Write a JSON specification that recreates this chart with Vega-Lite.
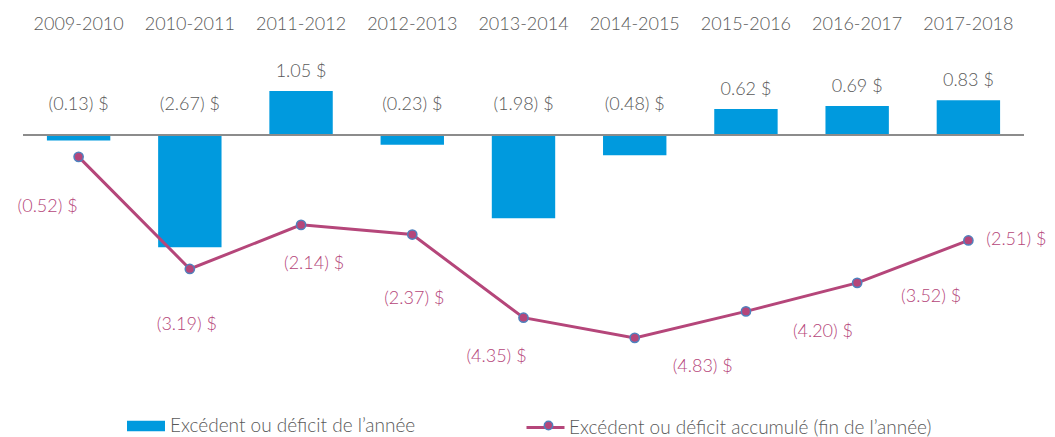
{
  "$schema": "https://vega.github.io/schema/vega-lite/v6.json",
  "width": 1001,
  "height": 336,
  "autosize": {"type": "none"},
  "padding": {"left": 23, "top": 51, "right": 31, "bottom": 50},
  "background": "white",
  "config": {"view": {"stroke": null}, "font": "Lato", "text": {"font": "Lato"}},
  "data": {"values": [
    {"year": "2009-2010", "annual": -0.13, "annualLabel": "(0.13) $", "cumulative": -0.52, "cumLabel": "(0.52) $"},
    {"year": "2010-2011", "annual": -2.67, "annualLabel": "(2.67) $", "cumulative": -3.19, "cumLabel": "(3.19) $"},
    {"year": "2011-2012", "annual": 1.05, "annualLabel": "1.05 $", "cumulative": -2.14, "cumLabel": "(2.14) $"},
    {"year": "2012-2013", "annual": -0.23, "annualLabel": "(0.23) $", "cumulative": -2.37, "cumLabel": "(2.37) $"},
    {"year": "2013-2014", "annual": -1.98, "annualLabel": "(1.98) $", "cumulative": -4.35, "cumLabel": "(4.35) $"},
    {"year": "2014-2015", "annual": -0.48, "annualLabel": "(0.48) $", "cumulative": -4.83, "cumLabel": "(4.83) $"},
    {"year": "2015-2016", "annual": 0.62, "annualLabel": "0.62 $", "cumulative": -4.20, "cumLabel": "(4.20) $"},
    {"year": "2016-2017", "annual": 0.69, "annualLabel": "0.69 $", "cumulative": -3.52, "cumLabel": "(3.52) $"},
    {"year": "2017-2018", "annual": 0.83, "annualLabel": "0.83 $", "cumulative": -2.51, "cumLabel": "(2.51) $"}
  ]},
  "layer": [
    {
      "mark": {"type": "bar"},
      "encoding": {
        "x": {"field": "year", "type": "nominal", "sort": null,
              "scale": {"paddingInner": 0.43, "paddingOuter": 0.215},
              "axis": {"orient": "top", "title": null, "ticks": false, "domain": false, "labelAngle": 0,
                       "labelPadding": 18, "labelFontSize": 18, "labelColor": "#595959", "labelFont": "Lato", "labelFontWeight": 300}},
        "y": {"field": "annual", "type": "quantitative", "scale": {"domain": [-6, 2], "nice": false}, "axis": null},
        "color": {"datum": "Excédent ou déficit de l’année", "type": "nominal",
                  "scale": {"range": ["#009ADE"]},
                  "legend": {"orient": "none", "legendX": 104, "legendY": 356, "title": null, "padding": 0,
                             "symbolType": "M-1,-0.27H1V0.27H-1Z", "symbolSize": 1444, "symbolStrokeWidth": 0,
                             "labelFontSize": 19, "labelLimit": 500, "labelColor": "#595959", "labelFont": "Lato", "labelFontWeight": 300, "labelOffset": 5}}
      }
    },
    {
      "mark": {"type": "rule", "color": "#8c8c8c", "strokeWidth": 1.2},
      "encoding": {"y": {"datum": 0, "type": "quantitative", "scale": {"domain": [-6, 2], "nice": false}}}
    },
    {
      "mark": {"type": "line", "strokeWidth": 3},
      "encoding": {
        "x": {"field": "year", "type": "nominal", "sort": null},
        "y": {"field": "cumulative", "type": "quantitative"},
        "stroke": {"datum": "Excédent ou déficit accumulé (fin de l’année)", "type": "nominal",
                   "scale": {"range": ["#B5467A"]},
                   "legend": {"orient": "none", "legendX": 502, "legendY": 356, "title": null, "padding": 0,
                              "symbolType": "M-1,0H1", "symbolSize": 1444, "symbolStrokeWidth": 3,
                              "labelFontSize": 19, "labelLimit": 500, "labelColor": "#595959", "labelFont": "Lato", "labelFontWeight": 300, "labelOffset": 3}}
      }
    },
    {
      "mark": {"type": "circle", "size": 85, "stroke": "#4F81BD", "strokeWidth": 1.5, "opacity": 1},
      "encoding": {
        "x": {"field": "year", "type": "nominal", "sort": null},
        "y": {"field": "cumulative", "type": "quantitative"},
        "fill": {"datum": "marqueur", "type": "nominal",
                 "scale": {"range": ["#B5467A"]},
                 "legend": {"orient": "none", "legendX": 517, "legendY": 366, "title": null, "padding": 0,
                            "symbolType": "circle", "symbolSize": 70, "symbolStrokeColor": "#4F81BD", "symbolStrokeWidth": 1.5,
                            "labelFontSize": 17, "labelExpr": "''", "labelOffset": 0}}
      }
    },
    {
      "transform": [{"filter": "datum.annual > 0"}],
      "mark": {"type": "text", "dy": -19, "baseline": "middle", "align": "center", "fontSize": 18, "fontWeight": 300, "color": "#595959"},
      "encoding": {
        "x": {"field": "year", "type": "nominal", "sort": null},
        "y": {"field": "annual", "type": "quantitative"},
        "text": {"field": "annualLabel"}
      }
    },
    {
      "transform": [{"filter": "datum.annual < 0"}],
      "mark": {"type": "text", "dy": -30, "baseline": "middle", "align": "center", "fontSize": 18, "fontWeight": 300, "color": "#595959"},
      "encoding": {
        "x": {"field": "year", "type": "nominal", "sort": null},
        "y": {"datum": 0, "type": "quantitative"},
        "text": {"field": "annualLabel"}
      }
    },
    {"transform": [{"filter": "datum.year == '2009-2010'"}],
     "mark": {"type": "text", "dx": -31, "dy": 50, "baseline": "middle", "align": "center", "fontSize": 18, "fontWeight": 300, "color": "#B5467A"},
     "encoding": {"x": {"field": "year", "type": "nominal", "sort": null}, "y": {"field": "cumulative", "type": "quantitative"}, "text": {"field": "cumLabel"}}},
    {"transform": [{"filter": "datum.year == '2010-2011'"}],
     "mark": {"type": "text", "dx": -3, "dy": 56, "baseline": "middle", "align": "center", "fontSize": 18, "fontWeight": 300, "color": "#B5467A"},
     "encoding": {"x": {"field": "year", "type": "nominal", "sort": null}, "y": {"field": "cumulative", "type": "quantitative"}, "text": {"field": "cumLabel"}}},
    {"transform": [{"filter": "datum.year == '2011-2012'"}],
     "mark": {"type": "text", "dx": 13, "dy": 39, "baseline": "middle", "align": "center", "fontSize": 18, "fontWeight": 300, "color": "#B5467A"},
     "encoding": {"x": {"field": "year", "type": "nominal", "sort": null}, "y": {"field": "cumulative", "type": "quantitative"}, "text": {"field": "cumLabel"}}},
    {"transform": [{"filter": "datum.year == '2012-2013'"}],
     "mark": {"type": "text", "dx": 2, "dy": 64, "baseline": "middle", "align": "center", "fontSize": 18, "fontWeight": 300, "color": "#B5467A"},
     "encoding": {"x": {"field": "year", "type": "nominal", "sort": null}, "y": {"field": "cumulative", "type": "quantitative"}, "text": {"field": "cumLabel"}}},
    {"transform": [{"filter": "datum.year == '2013-2014'"}],
     "mark": {"type": "text", "dx": -27, "dy": 39, "baseline": "middle", "align": "center", "fontSize": 18, "fontWeight": 300, "color": "#B5467A"},
     "encoding": {"x": {"field": "year", "type": "nominal", "sort": null}, "y": {"field": "cumulative", "type": "quantitative"}, "text": {"field": "cumLabel"}}},
    {"transform": [{"filter": "datum.year == '2014-2015'"}],
     "mark": {"type": "text", "dx": 68, "dy": 29, "baseline": "middle", "align": "center", "fontSize": 18, "fontWeight": 300, "color": "#B5467A"},
     "encoding": {"x": {"field": "year", "type": "nominal", "sort": null}, "y": {"field": "cumulative", "type": "quantitative"}, "text": {"field": "cumLabel"}}},
    {"transform": [{"filter": "datum.year == '2015-2016'"}],
     "mark": {"type": "text", "dx": 77, "dy": 21, "baseline": "middle", "align": "center", "fontSize": 18, "fontWeight": 300, "color": "#B5467A"},
     "encoding": {"x": {"field": "year", "type": "nominal", "sort": null}, "y": {"field": "cumulative", "type": "quantitative"}, "text": {"field": "cumLabel"}}},
    {"transform": [{"filter": "datum.year == '2016-2017'"}],
     "mark": {"type": "text", "dx": 74, "dy": 14, "baseline": "middle", "align": "center", "fontSize": 18, "fontWeight": 300, "color": "#B5467A"},
     "encoding": {"x": {"field": "year", "type": "nominal", "sort": null}, "y": {"field": "cumulative", "type": "quantitative"}, "text": {"field": "cumLabel"}}},
    {"transform": [{"filter": "datum.year == '2017-2018'"}],
     "mark": {"type": "text", "dx": 48, "dy": 0, "baseline": "middle", "align": "center", "fontSize": 18, "fontWeight": 300, "color": "#B5467A"},
     "encoding": {"x": {"field": "year", "type": "nominal", "sort": null}, "y": {"field": "cumulative", "type": "quantitative"}, "text": {"field": "cumLabel"}}}
  ]
}
